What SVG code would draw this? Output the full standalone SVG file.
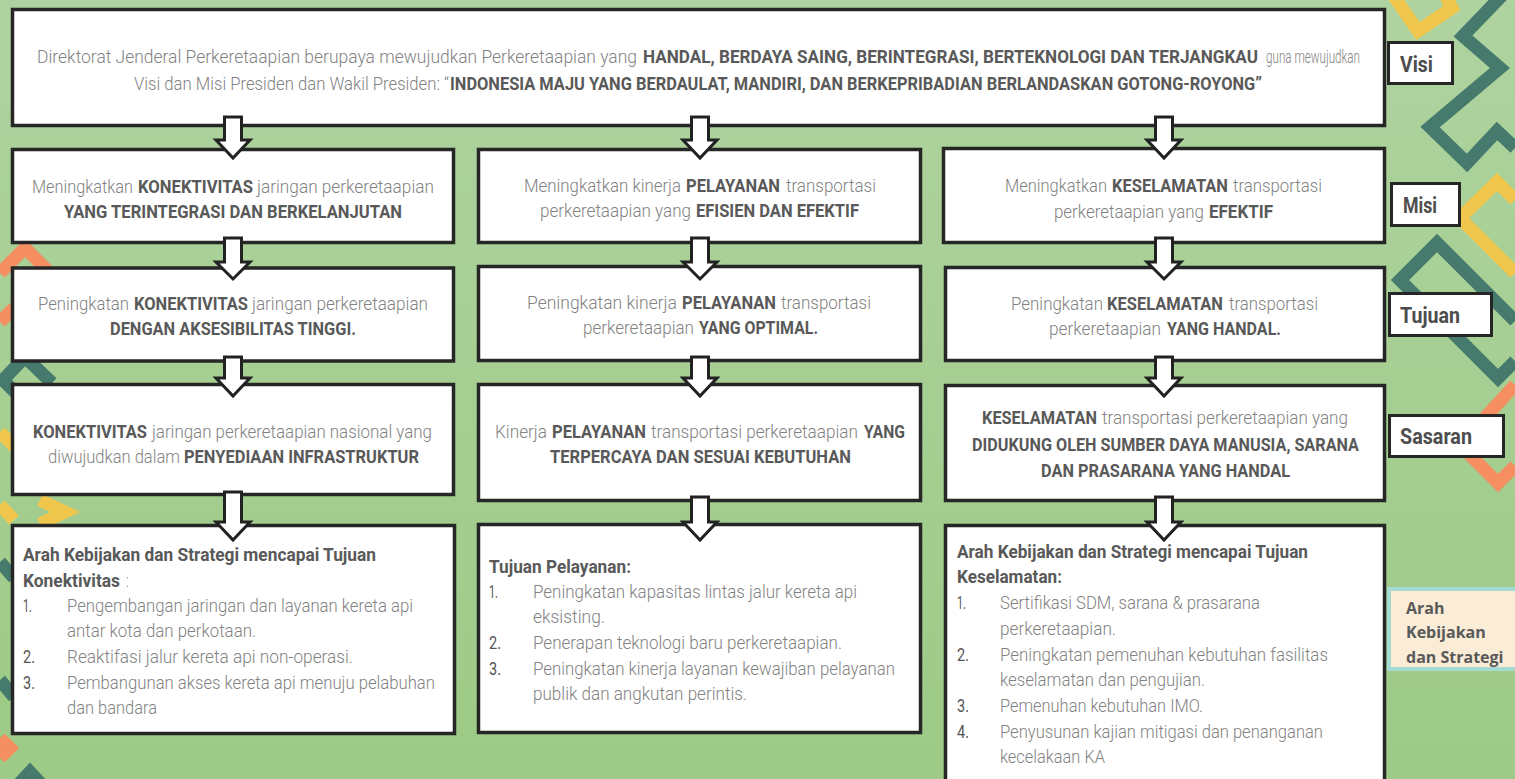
<svg xmlns="http://www.w3.org/2000/svg" width="1515" height="779" viewBox="0 0 1515 779">
<defs>
<linearGradient id="bg" x1="0" y1="0" x2="0" y2="1">
<stop offset="0" stop-color="#afd3a0"/>
<stop offset="1" stop-color="#9dca86"/>
</linearGradient>
<style>
.box{fill:#fff;stroke:#262626;stroke-width:3.5}
.lbl{fill:#fff;stroke:#262626;stroke-width:3}
.t{font-family:Roboto,"Liberation Sans",sans-serif;font-size:14px;font-weight:300;fill:#828282}
.b{font-weight:700;fill:#595959}
.n{font-weight:400;fill:#555}
.lt{font-family:Roboto,"Liberation Sans",sans-serif;font-size:22px;font-weight:700;fill:#4d4d4d}
.ak{font-family:"Open Sans","Liberation Sans",sans-serif;font-size:16px;font-weight:700;fill:#595959}
.arr{fill:#fff;stroke:#222;stroke-width:3;stroke-linejoin:miter}
.dy{fill:none;stroke:#f0c74c;stroke-width:13}
.dt{fill:none;stroke:#457a6c;stroke-width:13}
.do{fill:none;stroke:#f58e60;stroke-width:13}
</style>
</defs>
<rect width="1515" height="779" fill="url(#bg)"/>
<g id="decor">
<polyline class="dy" points="1393,-5 1418,31 1452,8 1445,-5"/>
<polyline class="dt" points="1515,-18 1463,36 1500,68 1430,127 1467,163 1497,131 1515,148"/>
<polyline class="dy" points="1515,200 1497,182 1460,218 1515,273"/>
<polyline class="dt" points="1515,321 1437,243 1400,280 1498,378 1515,361"/>
<polyline class="do" points="1515,385 1460,445 1498,483 1515,466"/>
<polyline class="do" points="0,273 25,248 52,275"/>
<polyline class="do" points="0,322 14,308"/>
<polyline class="dt" points="52,383 25,357 3,380 16,393"/>
<polyline class="dy" points="0,432 20,452"/>
<polyline class="dy" points="0,505 14,520"/>
<polyline class="dy" points="40,500 65,512 40,524"/>
<polyline class="dt" points="0,562 14,578"/>
<polyline class="dt" points="0,680 14,697"/>
<polyline class="do" points="0,738 10,748 0,758"/>
<polyline class="dt" points="18,785 30,772 42,785"/>
</g>
<g id="n-visi">
<rect class="box" x="12.5" y="9.5" width="1372" height="116"/>
<g transform="matrix(1,0,0,1.36,0,-22.68)">
<text class="t" x="37" y="63" textLength="600" lengthAdjust="spacingAndGlyphs">Direktorat Jenderal Perkeretaapian berupaya mewujudkan Perkeretaapian yang</text>
<text class="t b" x="643" y="63" textLength="615" lengthAdjust="spacingAndGlyphs">HANDAL,  BERDAYA SAING, BERINTEGRASI, BERTEKNOLOGI DAN TERJANGKAU</text>
<text class="t" x="1266" y="63" textLength="94" lengthAdjust="spacingAndGlyphs">guna mewujudkan</text>
</g>
<g transform="matrix(1,0,0,1.36,0,-32.4)">
<text class="t" x="134" y="90" textLength="315" lengthAdjust="spacingAndGlyphs">Visi dan Misi Presiden dan Wakil Presiden: “</text>
<text class="t b" x="450" y="90" textLength="812" lengthAdjust="spacingAndGlyphs">INDONESIA MAJU YANG BERDAULAT, MANDIRI, DAN BERKEPRIBADIAN BERLANDASKAN GOTONG-ROYONG”</text>
</g>
</g>
<g id="n-misi-1">
<rect class="box" x="12.5" y="149.5" width="441" height="93"/>
<g transform="matrix(1,0,0,1.36,0,-69.48)">
<text class="t" x="32" y="193" textLength="101" lengthAdjust="spacingAndGlyphs">Meningkatkan</text>
<text class="t b" x="138" y="193" textLength="115" lengthAdjust="spacingAndGlyphs">KONEKTIVITAS</text>
<text class="t" x="257" y="193" textLength="177" lengthAdjust="spacingAndGlyphs">jaringan perkeretaapian</text>
</g>
<g transform="matrix(1,0,0,1.36,0,-78.48)">
<text class="t b" x="64" y="218" textLength="338" lengthAdjust="spacingAndGlyphs">YANG TERINTEGRASI DAN BERKELANJUTAN</text>
</g>
</g>
<g id="n-misi-2">
<rect class="box" x="478.5" y="149.5" width="442" height="93"/>
<g transform="matrix(1,0,0,1.36,0,-69.12)">
<text class="t" x="524" y="192" textLength="157" lengthAdjust="spacingAndGlyphs">Meningkatkan kinerja</text>
<text class="t b" x="686" y="192" textLength="94" lengthAdjust="spacingAndGlyphs">PELAYANAN</text>
<text class="t" x="786" y="192" textLength="90" lengthAdjust="spacingAndGlyphs">transportasi</text>
</g>
<g transform="matrix(1,0,0,1.36,0,-78.12)">
<text class="t" x="540" y="217" textLength="151" lengthAdjust="spacingAndGlyphs">perkeretaapian yang</text>
<text class="t b" x="696" y="217" textLength="163" lengthAdjust="spacingAndGlyphs">EFISIEN DAN EFEKTIF</text>
</g>
</g>
<g id="n-misi-3">
<rect class="box" x="943.5" y="148.5" width="441" height="94"/>
<g transform="matrix(1,0,0,1.36,0,-69.12)">
<text class="t" x="1005" y="192" textLength="102" lengthAdjust="spacingAndGlyphs">Meningkatkan</text>
<text class="t b" x="1112" y="192" textLength="116" lengthAdjust="spacingAndGlyphs">KESELAMATAN</text>
<text class="t" x="1233" y="192" textLength="89" lengthAdjust="spacingAndGlyphs">transportasi</text>
</g>
<g transform="matrix(1,0,0,1.36,0,-78.48)">
<text class="t" x="1054" y="218" textLength="150" lengthAdjust="spacingAndGlyphs">perkeretaapian yang</text>
<text class="t b" x="1209" y="218" textLength="64" lengthAdjust="spacingAndGlyphs">EFEKTIF</text>
</g>
</g>
<g id="n-tujuan-1">
<rect class="box" x="12.5" y="268" width="441" height="93"/>
<g transform="matrix(1,0,0,1.36,0,-111.6)">
<text class="t" x="38" y="310" textLength="91" lengthAdjust="spacingAndGlyphs">Peningkatan</text>
<text class="t b" x="134" y="310" textLength="114" lengthAdjust="spacingAndGlyphs">KONEKTIVITAS</text>
<text class="t" x="252" y="310" textLength="176" lengthAdjust="spacingAndGlyphs">jaringan perkeretaapian</text>
</g>
<g transform="matrix(1,0,0,1.36,0,-120.6)">
<text class="t b" x="110" y="335" textLength="246" lengthAdjust="spacingAndGlyphs">DENGAN AKSESIBILITAS TINGGI.</text>
</g>
</g>
<g id="n-tujuan-2">
<rect class="box" x="478.5" y="266.5" width="442" height="94"/>
<g transform="matrix(1,0,0,1.36,0,-111.24)">
<text class="t" x="527" y="309" textLength="150" lengthAdjust="spacingAndGlyphs">Peningkatan  kinerja</text>
<text class="t b" x="682" y="309" textLength="94" lengthAdjust="spacingAndGlyphs">PELAYANAN</text>
<text class="t" x="781" y="309" textLength="90" lengthAdjust="spacingAndGlyphs">transportasi</text>
</g>
<g transform="matrix(1,0,0,1.36,0,-120.24)">
<text class="t" x="583" y="334" textLength="111" lengthAdjust="spacingAndGlyphs">perkeretaapian</text>
<text class="t b" x="699" y="334" textLength="119" lengthAdjust="spacingAndGlyphs">YANG OPTIMAL.</text>
</g>
</g>
<g id="n-tujuan-3">
<rect class="box" x="945.5" y="267.5" width="439" height="93"/>
<g transform="matrix(1,0,0,1.36,0,-111.6)">
<text class="t" x="1011" y="310" textLength="92" lengthAdjust="spacingAndGlyphs">Peningkatan</text>
<text class="t b" x="1107" y="310" textLength="116" lengthAdjust="spacingAndGlyphs">KESELAMATAN</text>
<text class="t" x="1229" y="310" textLength="89" lengthAdjust="spacingAndGlyphs">transportasi</text>
</g>
<g transform="matrix(1,0,0,1.36,0,-120.6)">
<text class="t" x="1049" y="335" textLength="112" lengthAdjust="spacingAndGlyphs">perkeretaapian</text>
<text class="t b" x="1167" y="335" textLength="114" lengthAdjust="spacingAndGlyphs">YANG HANDAL.</text>
</g>
</g>
<g id="n-sasaran-1">
<rect class="box" x="12.5" y="384.5" width="441" height="110"/>
<g transform="matrix(1,0,0,1.36,0,-157.68)">
<text class="t b" x="33" y="438" textLength="114" lengthAdjust="spacingAndGlyphs">KONEKTIVITAS</text>
<text class="t" x="152" y="438" textLength="280" lengthAdjust="spacingAndGlyphs">jaringan perkeretaapian nasional yang</text>
</g>
<g transform="matrix(1,0,0,1.36,0,-166.68)">
<text class="t" x="48" y="463" textLength="132" lengthAdjust="spacingAndGlyphs">diwujudkan dalam</text>
<text class="t b" x="184" y="463" textLength="235" lengthAdjust="spacingAndGlyphs">PENYEDIAAN INFRASTRUKTUR</text>
</g>
</g>
<g id="n-sasaran-2">
<rect class="box" x="478.5" y="384.5" width="442" height="116"/>
<g transform="matrix(1,0,0,1.36,0,-157.68)">
<text class="t" x="495" y="438" textLength="52" lengthAdjust="spacingAndGlyphs">Kinerja</text>
<text class="t b" x="552" y="438" textLength="94" lengthAdjust="spacingAndGlyphs">PELAYANAN</text>
<text class="t" x="651" y="438" textLength="207" lengthAdjust="spacingAndGlyphs">transportasi perkeretaapian</text>
<text class="t b" x="864" y="438" textLength="41" lengthAdjust="spacingAndGlyphs">YANG</text>
</g>
<g transform="matrix(1,0,0,1.36,0,-166.68)">
<text class="t b" x="550" y="463" textLength="301" lengthAdjust="spacingAndGlyphs">TERPERCAYA DAN SESUAI KEBUTUHAN</text>
</g>
</g>
<g id="n-sasaran-3">
<rect class="box" x="945.5" y="385.5" width="439" height="115"/>
<g transform="matrix(1,0,0,1.36,0,-152.64)">
<text class="t b" x="982" y="424" textLength="115" lengthAdjust="spacingAndGlyphs">KESELAMATAN</text>
<text class="t" x="1102" y="424" textLength="246" lengthAdjust="spacingAndGlyphs">transportasi perkeretaapian yang</text>
</g>
<g transform="matrix(1,0,0,1.36,0,-162.36)">
<text class="t b" x="972" y="451" textLength="387" lengthAdjust="spacingAndGlyphs">DIDUKUNG OLEH SUMBER DAYA MANUSIA, SARANA</text>
</g>
<g transform="matrix(1,0,0,1.36,0,-171.72)">
<text class="t b" x="1041" y="477" textLength="249" lengthAdjust="spacingAndGlyphs">DAN PRASARANA YANG HANDAL</text>
</g>
</g>
<g id="n-arah-1">
<rect class="box" x="12.5" y="525.5" width="442" height="208"/>
<g transform="matrix(1,0,0,1.36,0,-201.96)"><text class="t b" x="23" y="561" textLength="353" lengthAdjust="spacingAndGlyphs">Arah Kebijakan dan Strategi mencapai Tujuan</text></g>
<g transform="matrix(1,0,0,1.36,0,-211.32)"><text class="t b" x="23" y="587" textLength="97" lengthAdjust="spacingAndGlyphs">Konektivitas</text><text class="t" x="126" y="587">:</text></g>
<g transform="matrix(1,0,0,1.36,0,-220.32)"><text class="t n" x="23" y="612" textLength="9" lengthAdjust="spacingAndGlyphs">1.</text><text class="t" x="67" y="612" textLength="346" lengthAdjust="spacingAndGlyphs">Pengembangan jaringan dan layanan kereta api</text></g>
<g transform="matrix(1,0,0,1.36,0,-229.32)"><text class="t" x="67" y="637" textLength="189" lengthAdjust="spacingAndGlyphs">antar kota dan perkotaan.</text></g>
<g transform="matrix(1,0,0,1.36,0,-238.68)"><text class="t n" x="23" y="663" textLength="12" lengthAdjust="spacingAndGlyphs">2.</text><text class="t" x="67" y="663" textLength="286" lengthAdjust="spacingAndGlyphs">Reaktifasi jalur kereta api non-operasi.</text></g>
<g transform="matrix(1,0,0,1.36,0,-248.04)"><text class="t n" x="23" y="689" textLength="12" lengthAdjust="spacingAndGlyphs">3.</text><text class="t" x="67" y="689" textLength="368" lengthAdjust="spacingAndGlyphs">Pembangunan akses kereta api menuju pelabuhan</text></g>
<g transform="matrix(1,0,0,1.36,0,-257.04)"><text class="t" x="67" y="714" textLength="90" lengthAdjust="spacingAndGlyphs">dan bandara</text></g>
</g>
<g id="n-arah-2">
<rect class="box" x="478.5" y="524.5" width="442" height="208"/>
<g transform="matrix(1,0,0,1.36,0,-206.28)"><text class="t b" x="489" y="573" textLength="142" lengthAdjust="spacingAndGlyphs">Tujuan Pelayanan:</text></g>
<g transform="matrix(1,0,0,1.36,0,-215.28)"><text class="t n" x="489" y="598" textLength="9" lengthAdjust="spacingAndGlyphs">1.</text><text class="t" x="533" y="598" textLength="324" lengthAdjust="spacingAndGlyphs">Peningkatan kapasitas lintas jalur kereta api</text></g>
<g transform="matrix(1,0,0,1.36,0,-224.28)"><text class="t" x="533" y="623" textLength="72" lengthAdjust="spacingAndGlyphs">eksisting.</text></g>
<g transform="matrix(1,0,0,1.36,0,-233.64)"><text class="t n" x="489" y="649" textLength="12" lengthAdjust="spacingAndGlyphs">2.</text><text class="t" x="533" y="649" textLength="309" lengthAdjust="spacingAndGlyphs">Penerapan teknologi baru perkeretaapian.</text></g>
<g transform="matrix(1,0,0,1.36,0,-243)"><text class="t n" x="489" y="675" textLength="12" lengthAdjust="spacingAndGlyphs">3.</text><text class="t" x="533" y="675" textLength="362" lengthAdjust="spacingAndGlyphs">Peningkatan kinerja layanan kewajiban pelayanan</text></g>
<g transform="matrix(1,0,0,1.36,0,-252)"><text class="t" x="533" y="700" textLength="214" lengthAdjust="spacingAndGlyphs">publik dan angkutan perintis.</text></g>
</g>
<g id="n-arah-3">
<rect class="box" x="945.5" y="525.5" width="439" height="262"/>
<g transform="matrix(1,0,0,1.36,0,-200.88)"><text class="t b" x="957" y="558" textLength="351" lengthAdjust="spacingAndGlyphs">Arah Kebijakan dan Strategi mencapai Tujuan</text></g>
<g transform="matrix(1,0,0,1.36,0,-209.88)"><text class="t b" x="957" y="583" textLength="105" lengthAdjust="spacingAndGlyphs">Keselamatan:</text></g>
<g transform="matrix(1,0,0,1.36,0,-219.24)"><text class="t n" x="957" y="609" textLength="9" lengthAdjust="spacingAndGlyphs">1.</text><text class="t" x="1000" y="609" textLength="260" lengthAdjust="spacingAndGlyphs">Sertifikasi SDM, sarana &amp; prasarana</text></g>
<g transform="matrix(1,0,0,1.36,0,-228.6)"><text class="t" x="1000" y="635" textLength="116" lengthAdjust="spacingAndGlyphs">perkeretaapian.</text></g>
<g transform="matrix(1,0,0,1.36,0,-237.96)"><text class="t n" x="957" y="661" textLength="12" lengthAdjust="spacingAndGlyphs">2.</text><text class="t" x="1000" y="661" textLength="328" lengthAdjust="spacingAndGlyphs">Peningkatan pemenuhan kebutuhan fasilitas</text></g>
<g transform="matrix(1,0,0,1.36,0,-246.96)"><text class="t" x="1000" y="686" textLength="205" lengthAdjust="spacingAndGlyphs">keselamatan dan pengujian.</text></g>
<g transform="matrix(1,0,0,1.36,0,-256.32)"><text class="t n" x="957" y="712" textLength="12" lengthAdjust="spacingAndGlyphs">3.</text><text class="t" x="1000" y="712" textLength="203" lengthAdjust="spacingAndGlyphs">Pemenuhan kebutuhan IMO.</text></g>
<g transform="matrix(1,0,0,1.36,0,-265.68)"><text class="t n" x="957" y="738" textLength="12" lengthAdjust="spacingAndGlyphs">4.</text><text class="t" x="1000" y="738" textLength="323" lengthAdjust="spacingAndGlyphs">Penyusunan kajian mitigasi dan penanganan</text></g>
<g transform="matrix(1,0,0,1.36,0,-274.68)"><text class="t" x="1000" y="763" textLength="105" lengthAdjust="spacingAndGlyphs">kecelakaan KA</text></g>
</g>
<g id="l-visi">
<rect class="lbl" x="1388.5" y="42.5" width="64" height="41"/>
<text class="lt" x="1400" y="72" textLength="33" lengthAdjust="spacingAndGlyphs">Visi</text>
</g>
<g id="l-misi">
<rect class="lbl" x="1391.5" y="183.5" width="68" height="42"/>
<text class="lt" x="1403" y="213" textLength="34" lengthAdjust="spacingAndGlyphs">Misi</text>
</g>
<g id="l-tujuan">
<rect class="lbl" x="1389.5" y="293.5" width="102" height="42"/>
<text class="lt" x="1400" y="323" textLength="60" lengthAdjust="spacingAndGlyphs">Tujuan</text>
</g>
<g id="l-sasaran">
<rect class="lbl" x="1389.5" y="415.5" width="114" height="41"/>
<text class="lt" x="1400" y="444" textLength="72" lengthAdjust="spacingAndGlyphs">Sasaran</text>
</g>
<g id="l-arah">
<rect x="1389" y="589" width="130" height="80" fill="#faecd6" stroke="#a5dbd2" stroke-width="4"/>
<text class="ak" x="1406" y="614">Arah</text>
<text class="ak" x="1406" y="638">Kebijakan</text>
<text class="ak" x="1406" y="663">dan Strategi</text>
</g>
<g id="connectors">
<path class="arr" d="M224.5,117 H241.5 V140 H250 L233,158 L216,140 H224.5 Z"/>
<path class="arr" d="M691.5,117 H708.5 V140 H717 L700,158 L683,140 H691.5 Z"/>
<path class="arr" d="M1155.5,117 H1172.5 V140 H1181 L1164,158 L1147,140 H1155.5 Z"/>
<path class="arr" d="M224.5,238 H241.5 V262 H250 L233,279 L216,262 H224.5 Z"/>
<path class="arr" d="M691.5,238 H708.5 V262 H717 L700,279 L683,262 H691.5 Z"/>
<path class="arr" d="M1155.5,238 H1172.5 V262 H1181 L1164,279 L1147,262 H1155.5 Z"/>
<path class="arr" d="M224.5,357 H241.5 V378 H250 L233,396 L216,378 H224.5 Z"/>
<path class="arr" d="M691.5,357 H708.5 V378 H717 L700,396 L683,378 H691.5 Z"/>
<path class="arr" d="M1155.5,357 H1172.5 V378 H1181 L1164,396 L1147,378 H1155.5 Z"/>
<path class="arr" d="M224.5,492 H241.5 V522 H250 L233,540 L216,522 H224.5 Z"/>
<path class="arr" d="M691.5,497 H708.5 V522 H717 L700,540 L683,522 H691.5 Z"/>
<path class="arr" d="M1155.5,497 H1172.5 V522 H1181 L1164,540 L1147,522 H1155.5 Z"/>
</g>
</svg>
